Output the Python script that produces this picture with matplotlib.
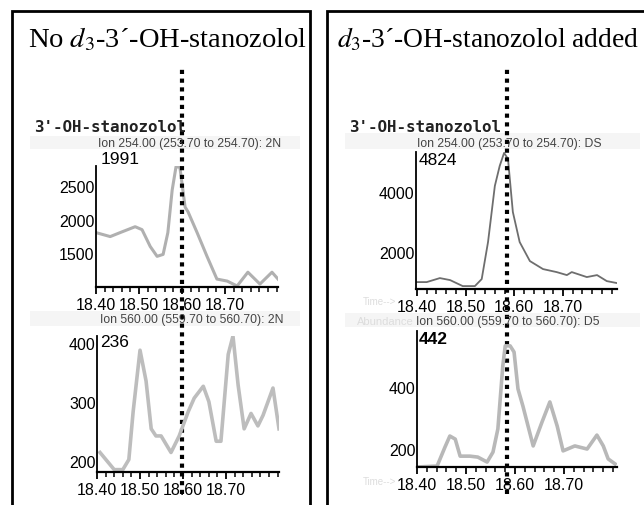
import numpy as np
import matplotlib
matplotlib.use("Agg")
import matplotlib.pyplot as plt
from matplotlib.patches import Rectangle

plt.rcParams['font.family'] = ['Liberation Sans', 'DejaVu Sans']
plt.rcParams['mathtext.fontset'] = 'stix'

W, H = 644, 506

# ion 254 trace, no d3 standard (left, top)
lt_time = [18.400, 18.433, 18.456, 18.491, 18.507, 18.526, 18.542, 18.556, 18.567, 18.577,
           18.586, 18.595, 18.607, 18.614, 18.635, 18.658, 18.681, 18.705, 18.728, 18.753,
           18.781, 18.809, 18.823]
lt_abund = [1809, 1750, 1809, 1897, 1853, 1603, 1456, 1485, 1809, 2440,
            2790, 2780, 2190, 2117, 1809, 1456, 1118, 1088, 1015, 1220,
            1044, 1220, 1118]

# ion 560 trace, no d3 standard (left, bottom)
lb_time = [18.407, 18.440, 18.460, 18.474, 18.484, 18.500, 18.514, 18.526, 18.537, 18.549,
           18.572, 18.591, 18.612, 18.626, 18.647, 18.660, 18.677, 18.688, 18.705, 18.716,
           18.728, 18.742, 18.758, 18.774, 18.786, 18.809, 18.823]
lb_abund = [215, 186, 186, 203, 284, 388, 336, 255, 243, 243,
            215, 243, 284, 307, 327, 301, 234, 234, 381, 412,
            329, 255, 281, 260, 278, 324, 255]

# ion 254 trace, d3 standard added (right, top)
rt_time = [18.400, 18.420, 18.447, 18.468, 18.494, 18.519, 18.533, 18.546, 18.560, 18.570,
           18.579, 18.587, 18.597, 18.611, 18.632, 18.659, 18.687, 18.708, 18.718, 18.749,
           18.770, 18.790, 18.811]
rt_abund = [1000, 1000, 1133, 1067, 867, 867, 1100, 2333, 4200, 4867,
            5300, 5100, 3333, 2333, 1700, 1433, 1333, 1233, 1333, 1167,
            1233, 1033, 967]

# ion 560 trace, d3 standard added (right, bottom)
rb_time = [18.400, 18.441, 18.457, 18.467, 18.478, 18.488, 18.508, 18.524, 18.543, 18.555,
           18.565, 18.575, 18.580, 18.590, 18.598, 18.606, 18.616, 18.637, 18.655, 18.671,
           18.686, 18.698, 18.722, 18.747, 18.767, 18.780, 18.790, 18.804]
rb_abund = [142, 145, 206, 242, 232, 177, 177, 174, 158, 190,
            265, 468, 533, 533, 513, 394, 339, 210, 287, 352,
            274, 194, 210, 200, 245, 210, 168, 152]

rt_mark_left = 18.600
rt_mark_right = 18.585

x_ticks = [18.40, 18.50, 18.60, 18.70]
x_labels = ['18.40', '18.50', '18.60', '18.70']


def fbox(x0, y0, x1, y1):
    return [x0 / W, 1 - y1 / H, (x1 - x0) / W, (y1 - y0) / H]


def fx(x):
    return x / W


def fy(y):
    return 1 - y / H


def setup(ax, xlim, ylim, yticks):
    ax.set_xlim(xlim)
    ax.set_ylim(ylim)
    ax.patch.set_visible(False)
    ax.spines['top'].set_visible(False)
    ax.spines['right'].set_visible(False)
    ax.spines['left'].set_linewidth(1.3)
    ax.spines['bottom'].set_linewidth(1.6)
    ax.set_xticks(x_ticks)
    ax.set_xticklabels(x_labels)
    ax.set_xticks(np.arange(18.40, xlim[1] + 0.001, 0.02), minor=True)
    ax.tick_params(axis='x', which='major', length=5, width=1.3, labelsize=11.5, pad=2)
    ax.tick_params(axis='x', which='minor', length=3.5, width=1.1)
    ax.set_yticks(yticks)
    ax.set_yticklabels([str(v) for v in yticks])
    ax.tick_params(axis='y', length=0, labelsize=11.5, pad=1)


fig = plt.figure(figsize=(6.44, 5.06), dpi=100)

# panel frames
fig.add_artist(Rectangle((fx(12), fy(520)), fx(310) - fx(12), fy(12) - fy(520),
                         transform=fig.transFigure, fill=False, lw=2, ec='black'))
fig.add_artist(Rectangle((fx(327), fy(520)), fx(660) - fx(327), fy(12) - fy(520),
                         transform=fig.transFigure, fill=False, lw=2, ec='black'))

fig.text(fx(168), fy(40), r'No $d_3$-3´-OH-stanozolol', ha='center', va='center',
         fontsize=20.5, family='Liberation Serif')
fig.text(fx(488), fy(40), r'$d_3$-3´-OH-stanozolol added', ha='center', va='center',
         fontsize=19.8, family='Liberation Serif')

for x0 in (34, 349):
    fig.text(fx(x0), fy(128), "3'-OH-stanozolol", ha='left', va='center',
             fontsize=11.4, family='DejaVu Sans Mono', weight='bold', color='#222222')

# faint scan bands behind the ion headers
for b in [(30, 137, 300, 150), (345, 134, 640, 150), (30, 312, 300, 327), (345, 314, 640, 328)]:
    fig.add_artist(Rectangle((fx(b[0]), fy(b[3])), fx(b[2]) - fx(b[0]), fy(b[1]) - fy(b[3]),
                             transform=fig.transFigure, color='#f5f5f5', lw=0, zorder=0))

ion_kw = dict(fontsize=8.8, color='#444444', va='center')
fig.text(fx(98), fy(144), 'Ion 254.00 (253.70 to 254.70): 2N', **ion_kw)
fig.text(fx(417), fy(144), 'Ion 254.00 (253.70 to 254.70): DS', **ion_kw)
fig.text(fx(100), fy(320), 'Ion 560.00 (559.70 to 560.70): 2N', **ion_kw)
fig.text(fx(416), fy(322), 'Ion 560.00 (559.70 to 560.70): D5', **ion_kw)
fig.text(fx(414), fy(322), 'Abundance', fontsize=8, color='#dddddd', va='center', ha='right')
fig.text(fx(396), fy(302), 'Time-->', fontsize=7, color='#dddddd', va='center', ha='right')
fig.text(fx(396), fy(482), 'Time-->', fontsize=7, color='#dddddd', va='center', ha='right')

ax1 = fig.add_axes(fbox(96, 167, 278, 288))
setup(ax1, (18.40, 18.823), (1000, 2800), [1500, 2000, 2500])
ax1.plot(lt_time, lt_abund, color='#b0b0b0', lw=2.2)

ax2 = fig.add_axes(fbox(97, 337, 279, 473))
setup(ax2, (18.40, 18.823), (182, 412), [200, 300, 400])
ax2.plot(lb_time, lb_abund, color='#bdbdbd', lw=2.6)

ax3 = fig.add_axes(fbox(416, 153, 617, 290))
setup(ax3, (18.398, 18.811), (770, 5330), [2000, 4000])
ax3.plot(rt_time, rt_abund, color='#6e6e6e', lw=1.3)

ax4 = fig.add_axes(fbox(417, 332, 617, 468))
setup(ax4, (18.400, 18.808), (142, 581), [200, 400])
ax4.plot(rb_time, rb_abund, color='#b8b8b8', lw=2.6)

fig.text(fx(101), fy(160), '1991', fontsize=12.5, va='center')
fig.text(fx(100), fy(343), '236', fontsize=12.5, va='center')
fig.text(fx(419), fy(161), '4824', fontsize=12.5, va='center')
fig.text(fx(419), fy(340), '442', fontsize=12.5, va='center', weight='bold')

# dotted retention-time markers spanning both traces
ax1.axvline(rt_mark_left, ymin=(288 - 495) / 121, ymax=(288 - 70) / 121, clip_on=False,
            color='black', lw=3, ls=(0, (1, 1.1)), zorder=5)
ax3.axvline(rt_mark_right, ymin=(290 - 495) / 137, ymax=(290 - 70) / 137, clip_on=False,
            color='black', lw=3, ls=(0, (1, 1.1)), zorder=5)

fig.savefig('out.png', dpi=100)
